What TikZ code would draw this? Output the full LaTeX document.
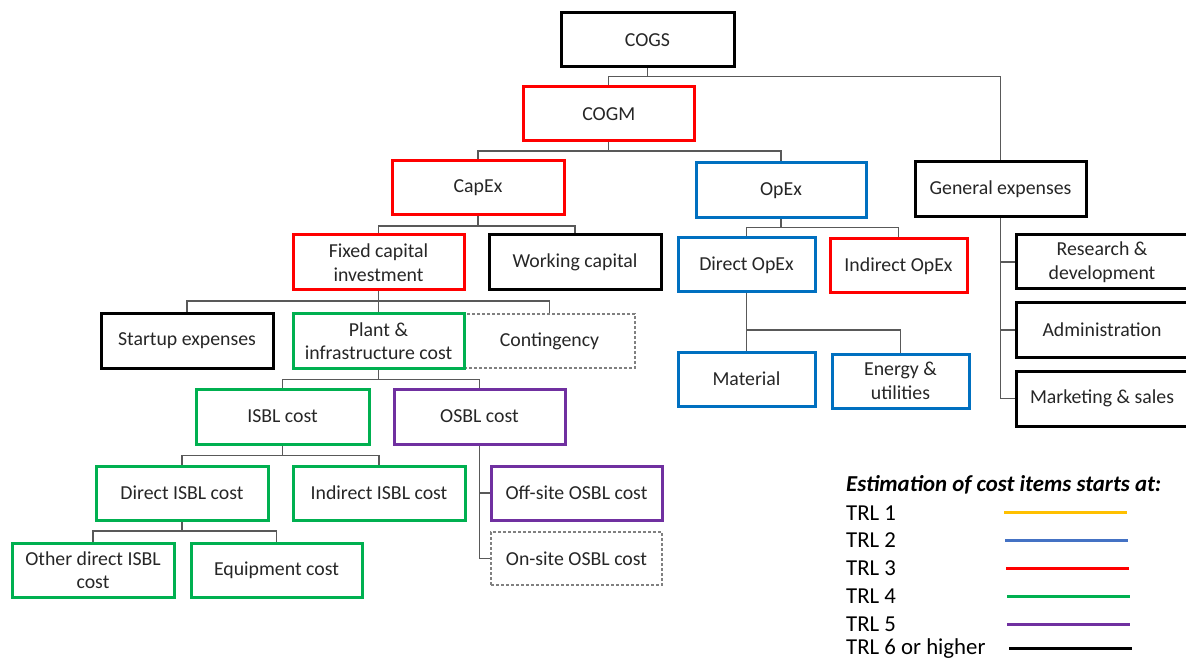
\documentclass[tikz,border=0pt]{standalone}
\usepackage{fontspec}
\setmainfont{Carlito}
\definecolor{cred}{HTML}{FF0000}
\definecolor{cblue}{HTML}{0070C0}
\definecolor{cgreen}{HTML}{00B050}
\definecolor{cpurple}{HTML}{7030A0}
\definecolor{cgold}{HTML}{FFC000}
\definecolor{clblue}{HTML}{4472C4}
\definecolor{conncol}{HTML}{595959}
\definecolor{txtcol}{HTML}{262626}
\begin{document}
\begin{tikzpicture}[x=1pt,y=-1pt,
  box/.style={draw, line width=3pt, inner sep=0pt, align=center,
    font=\fontsize{19.8}{23.5}\selectfont, text=txtcol},
  boxk/.style={box, draw=black},
  boxr/.style={box, draw=cred},
  boxb/.style={box, draw=cblue},
  boxg/.style={box, draw=cgreen},
  boxp/.style={box, draw=cpurple},
  boxd/.style={box, draw=gray, line width=1.1pt, dash pattern=on 3pt off 2pt},
  conn/.style={draw=conncol, line width=1.2pt},
  legtxt/.style={anchor=west, inner sep=0pt, font=\fontsize{22.8}{26}\selectfont, text=black},
  legline/.style={line width=3pt}
]
\useasboundingbox (0,0) rectangle (1186,660);
\clip (0,0) rectangle (1186,660);

% boxes
\node[boxk, minimum width=173pt, minimum height=54pt] (cogs) at (647.5,40) {COGS};
\node[boxr, minimum width=171.5pt, minimum height=54pt] (cogm) at (608.75,114) {COGM};
\node[boxr, minimum width=172pt, minimum height=54pt] (capex) at (478,188) {CapEx};
\node[boxb, minimum width=170pt, minimum height=55pt] (opex) at (781,190.5) {OpEx};
\node[boxk, minimum width=171pt, minimum height=55pt] (gen) at (1000.5,189.5) {General expenses};
\node[boxr, minimum width=171pt, minimum height=55pt] (fci) at (378.5,262.5) {Fixed capital\\investment};
\node[boxk, minimum width=172pt, minimum height=55pt] (wc) at (575,262.5) {Working capital};
\node[boxb, minimum width=137pt, minimum height=54pt] (dopex) at (746.5,265) {Direct OpEx};
\node[boxr, minimum width=137pt, minimum height=54pt] (iopex) at (898.5,266) {Indirect OpEx};
\node[boxk, minimum width=172pt, minimum height=54pt] (res) at (1102,262) {Research \&\\development};
\node[boxk, minimum width=172pt, minimum height=54pt] (adm) at (1102,330) {Administration};
\node[boxk, minimum width=172pt, minimum height=55pt] (mkt) at (1102,398.5) {Marketing \& sales};
\node[boxk, minimum width=172pt, minimum height=54pt] (start) at (187,341) {Startup expenses};
\node[boxd, minimum width=171pt, minimum height=54pt] (cont) at (549.5,341) {Contingency};
\node[boxg, minimum width=171pt, minimum height=54pt] (plant) at (378.5,341) {Plant \&\\infrastructure cost};
\node[boxb, minimum width=137pt, minimum height=54pt] (mat) at (746.5,379) {Material};
\node[boxb, minimum width=137pt, minimum height=54pt] (ene) at (900.5,381) {Energy \&\\utilities};
\node[boxg, minimum width=173pt, minimum height=55pt] (isbl) at (282.5,416.5) {ISBL cost};
\node[boxp, minimum width=171pt, minimum height=55pt] (osbl) at (479.5,416.5) {OSBL cost};
\node[boxg, minimum width=172pt, minimum height=54pt] (disbl) at (182,493) {Direct ISBL cost};
\node[boxg, minimum width=172pt, minimum height=54pt] (iisbl) at (379,493) {Indirect ISBL cost};
\node[boxp, minimum width=171pt, minimum height=54pt] (off) at (576.5,493) {Off-site OSBL cost};
\node[boxd, minimum width=171pt, minimum height=53pt] (on) at (576.5,558.5) {On-site OSBL cost};
\node[boxg, minimum width=162pt, minimum height=54pt] (oth) at (93,570) {Other direct ISBL\\cost};
\node[boxg, minimum width=171pt, minimum height=54pt] (equ) at (276.5,570) {Equipment cost};

% connectors
\draw[conn] (cogs.south) -- (cogs.south |- 0,76.7) -| (cogm.north);
\draw[conn] (cogs.south |- 0,76.7) -| (gen.north);
\draw[conn] (cogm.south) -- (cogm.south |- 0,151) -| (capex.north);
\draw[conn] (cogm.south |- 0,151) -| (opex.north);
\draw[conn] (capex.south) -- (capex.south |- 0,226) -| (fci.north);
\draw[conn] (capex.south |- 0,226) -| (wc.north);
\draw[conn] (fci.south) -- (plant.north);
\draw[conn] (fci.south |- 0,301) -| (start.north);
\draw[conn] (fci.south |- 0,301) -| (cont.north);
\draw[conn] (plant.south) -- (plant.south |- 0,379.3) -| (isbl.north);
\draw[conn] (plant.south |- 0,379.3) -| (osbl.north);
\draw[conn] (isbl.south) -- (isbl.south |- 0,455.7) -| (disbl.north);
\draw[conn] (isbl.south |- 0,455.7) -| (iisbl.north);
\draw[conn] (disbl.south) -- (disbl.south |- 0,531) -| (oth.north);
\draw[conn] (disbl.south |- 0,531) -| (equ.north);
\draw[conn] (osbl.south) |- (on.west);
\draw[conn] (osbl.south |- off.west) -- (off.west);
\draw[conn] (opex.south) -- (opex.south |- 0,227.3) -| (dopex.north);
\draw[conn] (opex.south |- 0,227.3) -| (iopex.north);
\draw[conn] (dopex.south) -- (mat.north);
\draw[conn] (dopex.south |- 0,330) -| (ene.north);
\draw[conn] (gen.south) |- (mkt.west);
\draw[conn] (gen.south |- res.west) -- (res.west);
\draw[conn] (gen.south |- adm.west) -- (adm.west);

% legend
\node[legtxt, font=\fontsize{22.8}{26}\selectfont\bfseries\itshape] (legt) at (846,485) {Estimation of cost items starts at:};
\node[legtxt] (l1) at (846,512.7) {TRL 1};
\node[legtxt] (l2) at (846,540) {TRL 2};
\node[legtxt] (l3) at (846,568.3) {TRL 3};
\node[legtxt] (l4) at (846,596) {TRL 4};
\node[legtxt] (l5) at (846,624) {TRL 5};
\node[legtxt] (l6) at (846,648.3) {TRL 6 or higher};
\draw[legline, cgold] (1004,512.7) -- (1127,512.7);
\draw[legline, clblue] (1005,540) -- (1128,540);
\draw[legline, cred] (1006,568.3) -- (1129,568.3);
\draw[legline, cgreen] (1007,596) -- (1130,596);
\draw[legline, cpurple] (1007,624) -- (1130,624);
\draw[legline, black] (1009,648.3) -- (1132,648.3);
\end{tikzpicture}
\end{document}
